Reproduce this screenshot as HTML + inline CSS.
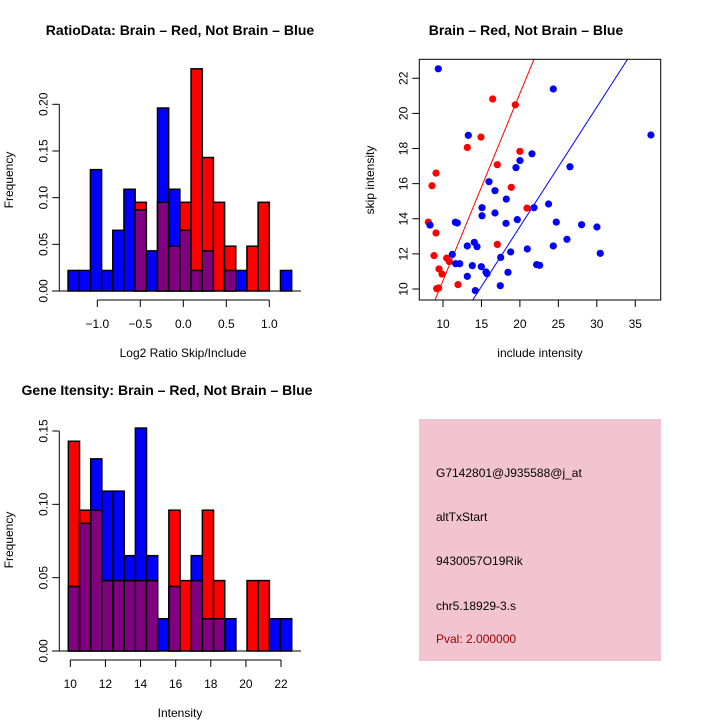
<!DOCTYPE html>
<html><head><meta charset="utf-8"><style>
html,body{margin:0;padding:0;background:#fff;}
svg{display:block;font-family:"Liberation Sans",sans-serif;}
</style></head><body>
<svg id="s" width="720" height="720" viewBox="0 0 720 720">
<rect width="720" height="720" fill="#fff"/>
<text x="180" y="35" text-anchor="middle" font-size="14" font-weight="bold">RatioData: Brain – Red, Not Brain – Blue</text>
<text x="526" y="35" text-anchor="middle" font-size="14" font-weight="bold">Brain – Red, Not Brain – Blue</text>
<text x="167" y="395" text-anchor="middle" font-size="14" font-weight="bold">Gene Itensity: Brain – Red, Not Brain – Blue</text>
<text x="183" y="357" text-anchor="middle" font-size="12">Log2 Ratio Skip/Include</text>
<text transform="translate(13,180) rotate(-90)" text-anchor="middle" font-size="12">Frequency</text>
<text x="540" y="357" text-anchor="middle" font-size="12">include intensity</text>
<text transform="translate(374,180) rotate(-90)" text-anchor="middle" font-size="12">skip intensity</text>
<text x="180" y="717" text-anchor="middle" font-size="12">Intensity</text>
<text transform="translate(13,540) rotate(-90)" text-anchor="middle" font-size="12">Frequency</text>
<g>
<rect x="419" y="419" width="242" height="242" fill="#f2c4cf"/>
<text x="436" y="477" font-size="12">G7142801@J935588@j_at</text>
<text x="436" y="521" font-size="12">altTxStart</text>
<text x="436" y="565" font-size="12">9430057O19Rik</text>
<text x="436" y="610" font-size="12">chr5.18929-3.s</text>
<text x="436" y="643" font-size="12" fill="#a00000">Pval: 2.000000</text>
</g>
<g id="g1"></g><g id="g2"></g><g id="g3"></g>
</svg>
<script>
const ratioBinStart = -1.34, ratioBinWidth = 0.13;
const ratioRed  = [0,0,0,0,0,0,0.095,0,0.095,0.048,0.095,0.238,0.143,0.095,0.048,0,0.048,0.095,0,0];
const ratioBlue = [0.022,0.022,0.13,0.022,0.065,0.109,0.087,0.043,0.196,0.109,0.065,0.022,0.043,0,0.022,0.022,0,0,0,0.022];
const ratioXTicks = [-1.0,-0.5,0.0,0.5,1.0];
const ratioXLabels = ["\u22121.0","\u22120.5","0.0","0.5","1.0"];
const ratioYTicks = [0,0.05,0.10,0.15,0.20];
const ratioYLabels = ["0.00","0.05","0.10","0.15","0.20"];

const intBinStart = 9.89, intBinWidth = 0.636;
const intRed  = [0.143,0.096,0.096,0.048,0.048,0.048,0.048,0.048,0,0.096,0.048,0.048,0.096,0.048,0,0,0.048,0.048,0,0];
const intBlue = [0.044,0.087,0.131,0.109,0.109,0.065,0.152,0.065,0.022,0.044,0,0.065,0.022,0.022,0.022,0,0,0,0.022,0.022];
const intXTicks = [10,12,14,16,18,20,22];
const intYTicks = [0,0.05,0.10,0.15];
const intYLabels = ["0.00","0.05","0.10","0.15"];

const redX = [8.09,8.57,9.09,9.09,8.83,9.18,9.44,9.48,9.87,10.48,10.82,11.95,13.16,14.94,16.46,17.06,17.06,18.88,19.40,20.00,20.92];
const redY = [13.81,15.88,16.60,13.19,11.90,10.02,10.06,11.14,10.85,11.76,11.56,10.25,18.06,18.65,20.82,17.08,12.54,15.79,20.49,17.84,14.61];
const blueX = [9.39,8.31,11.21,11.60,11.86,11.65,12.17,13.16,13.16,13.29,13.81,14.07,14.42,14.20,14.98,15.07,15.07,15.59,15.72,15.98,16.76,16.76,17.50,17.45,18.23,18.19,18.45,18.80,19.49,19.66,20.01,20.96,21.57,21.83,22.17,22.57,23.73,24.34,24.34,24.73,26.12,26.51,28.02,30.02,30.45,37.04];
const blueY = [22.54,13.64,11.97,13.80,13.76,11.44,11.44,12.45,10.72,18.75,11.33,12.66,12.41,9.91,11.27,14.63,14.17,10.97,10.87,16.11,15.60,14.33,11.80,10.19,15.12,13.74,10.95,12.11,16.91,13.95,17.31,12.28,17.70,14.63,11.39,11.35,14.84,21.39,12.45,13.81,12.83,16.96,13.66,13.53,12.03,18.77];
const redLine = [-0.17, 1.065];
const blueLine = [-0.07, 0.681];
const scXTicks = [10,15,20,25,30,35];
const scYTicks = [10,12,14,16,18,20,22];

const NS="http://www.w3.org/2000/svg";
function mk(parent,tag,attrs){const e=document.createElementNS(NS,tag);for(const k in attrs)e.setAttribute(k,attrs[k]);parent.appendChild(e);return e;}

function hist(g, start, w, red, blue, sx, sy, name){
  for(let i=0;i<red.length;i++){
    const x0=sx(start+i*w), x1=sx(start+(i+1)*w);
    const r=red[i], b=blue[i];
    const hi=Math.max(r,b), lo=Math.min(r,b);
    if(hi>0){
      const e=mk(g,'rect',{x:x0,y:sy(hi),width:x1-x0,height:sy(0)-sy(hi),fill:r>=b?'#ff0000':'#0000ff',stroke:'#000','stroke-width':1.5});
      
      
    }
    if(lo>0){
      const e=mk(g,'rect',{x:x0,y:sy(lo),width:x1-x0,height:sy(0)-sy(lo),fill:'#800080',stroke:'#000','stroke-width':1.5});
      
      
    }
  }
}
function yaxis(g,x,ticks,labels,sy,name){
  const l=mk(g,'line',{x1:x,x2:x,y1:sy(ticks[0]),y2:sy(ticks[ticks.length-1]),stroke:'#000'});
  
  
  ticks.forEach((t,i)=>{
    mk(g,'line',{x1:x-7,x2:x,y1:sy(t),y2:sy(t),stroke:'#000'});
    const tx=mk(g,'text',{transform:`translate(${x-12},${sy(t)}) rotate(-90)`,'text-anchor':'middle','font-size':12});
    tx.textContent=labels[i];
    
    
  });
}
function xaxis(g,y,ticks,labels,sx,name){
  const l=mk(g,'line',{x1:sx(ticks[0]),x2:sx(ticks[ticks.length-1]),y1:y,y2:y,stroke:'#000'});
  
  
  ticks.forEach((t,i)=>{
    mk(g,'line',{x1:sx(t),x2:sx(t),y1:y,y2:y+7,stroke:'#000'});
    const tx=mk(g,'text',{x:sx(t),y:y+28,'text-anchor':'middle','font-size':12});
    tx.textContent=labels[i];
    
    
  });
}

// Ratio histogram
(function(){
  const g=document.getElementById('g1');
  
  
  const sx=v=>183.3+v*86, sy=v=>291-v*(291-104.3)/0.2;
  mk(g,'line',{x1:52,x2:301,y1:291,y2:291,stroke:'#000'});
  hist(g,ratioBinStart,ratioBinWidth,ratioRed,ratioBlue,sx,sy,'ratio');
  yaxis(g,59.3,ratioYTicks,ratioYLabels,sy,'ratio');
  xaxis(g,300,ratioXTicks,ratioXLabels,sx,'ratio');
})();

// Intensity histogram
(function(){
  const g=document.getElementById('g3');
  
  
  const sx=v=>70.3+(v-10)*17.56, sy=v=>651-v*(651-431)/0.15;
  mk(g,'line',{x1:52,x2:301,y1:651,y2:651,stroke:'#000'});
  hist(g,intBinStart,intBinWidth,intRed,intBlue,sx,sy,'intensity');
  yaxis(g,59.3,intYTicks,intYLabels,sy,'intensity');
  xaxis(g,660,intXTicks,intXTicks.map(String),sx,'intensity');
})();

// Scatter
(function(){
  const g=document.getElementById('g2');
  
  
  const sx=v=>443+(v-10)*7.69, sy=v=>289-(v-10)*17.56;
  const L=419.3,R=660.7,T=59.3,B=300;
  const cp=mk(g,'clipPath',{id:'cp'});
  mk(cp,'rect',{x:L,y:T,width:R-L,height:B-T});
  [[redLine,'#ff0000','red'],[blueLine,'#0000ff','blue']].forEach(([ln,c,n])=>{
    const x0=0,x1=50;
    const e=mk(g,'line',{x1:sx(x0),y1:sy(ln[0]+ln[1]*x0),x2:sx(x1),y2:sy(ln[0]+ln[1]*x1),stroke:c,'stroke-width':1,'clip-path':'url(#cp)'});
    
    
  });
  redX.forEach((x,i)=>{
    const e=mk(g,'circle',{cx:sx(x),cy:sy(redY[i]),r:3.6,fill:'#ff0000','clip-path':'url(#cp)'});
    
    
  });
  blueX.forEach((x,i)=>{
    const e=mk(g,'circle',{cx:sx(x),cy:sy(blueY[i]),r:3.6,fill:'#0000ff','clip-path':'url(#cp)'});
    
    
  });
  const b=mk(g,'rect',{x:L,y:T,width:R-L,height:B-T,fill:'none',stroke:'#000'});
  
  
  scYTicks.forEach(t=>{
    mk(g,'line',{x1:L-7,x2:L,y1:sy(t),y2:sy(t),stroke:'#000'});
    const tx=mk(g,'text',{transform:`translate(${L-12},${sy(t)}) rotate(-90)`,'text-anchor':'middle','font-size':12});
    tx.textContent=String(t);
    
    
  });
  scXTicks.forEach(t=>{
    mk(g,'line',{x1:sx(t),x2:sx(t),y1:B,y2:B+7,stroke:'#000'});
    const tx=mk(g,'text',{x:sx(t),y:B+28,'text-anchor':'middle','font-size':12});
    tx.textContent=String(t);
    
    
  });
})();
</script>
</body></html>
